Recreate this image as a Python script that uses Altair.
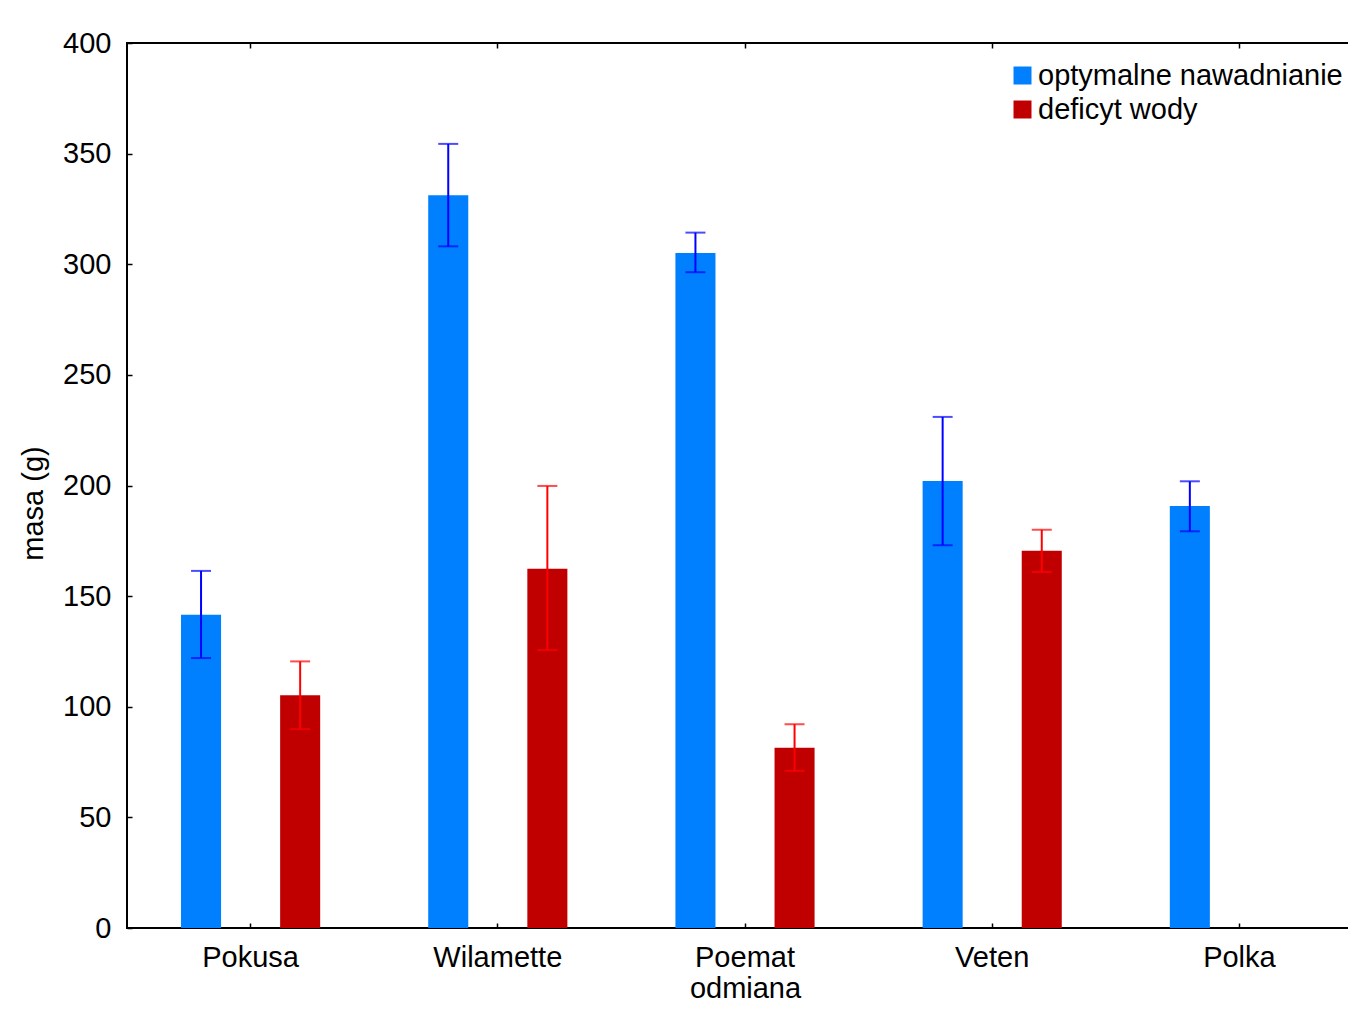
import altair as alt
import pandas as pd

categories = ["Pokusa", "Wilamette", "Poemat", "Veten", "Polka"]
groups = ["optymalne nawadnianie", "deficyt wody"]

opt_mean = [141.6, 331.2, 305.1, 202.0, 190.7]
opt_hi = [161.4, 354.4, 314.3, 231.0, 201.9]
opt_lo = [122.0, 308.1, 296.4, 173.0, 179.3]

def_mean = [105.2, 162.4, 81.5, 170.5, 0.0]
def_hi = [120.5, 199.8, 92.1, 180.0, None]
def_lo = [89.9, 125.6, 71.0, 160.9, None]

bar_colors = ["#0080ff", "#c00000"]
err_colors = ["#0000ff", "#ff0000"]

rows = []
for i, c in enumerate(categories):
    rows.append({"odmiana": c, "grupa": groups[0], "masa": opt_mean[i],
                 "hi": opt_hi[i], "lo": opt_lo[i], "ecol": err_colors[0]})
    rows.append({"odmiana": c, "grupa": groups[1], "masa": def_mean[i],
                 "hi": def_hi[i], "lo": def_lo[i], "ecol": err_colors[1]})
df = pd.DataFrame(rows)

FONT = "Liberation Sans"
FS = 29

x_bottom = alt.X(
    "odmiana:N", sort=categories,
    scale=alt.Scale(paddingInner=0, paddingOuter=0),
    axis=alt.Axis(title="odmiana", orient="bottom", domain=False, grid=False,
                  tickSize=5, tickWidth=1.5, tickColor="black", offset=-5,
                  labelAngle=0, labelFontSize=FS, labelFont=FONT, labelColor="black",
                  labelPadding=15, titleFontSize=FS, titleFont=FONT,
                  titleFontWeight="normal", titleColor="black", titlePadding=2),
)
x_top = alt.X(
    "odmiana:N", sort=categories,
    axis=alt.Axis(title=None, orient="top", domain=False, grid=False, labels=False,
                  tickSize=5, tickWidth=1.5, tickColor="black", offset=-5),
)
x_none = alt.X("odmiana:N", sort=categories, axis=None)

xoff = alt.XOffset("grupa:N", sort=groups,
                   scale=alt.Scale(paddingInner=0.596, paddingOuter=0.545))

y_enc = alt.Y(
    "masa:Q",
    scale=alt.Scale(domain=[0, 400], nice=False, zero=True),
    axis=alt.Axis(title="masa (g)", values=[0, 50, 100, 150, 200, 250, 300, 350, 400],
                  domain=False, grid=False, tickSize=5, tickWidth=1.5, tickColor="black",
                  offset=-5, labelFontSize=FS, labelFont=FONT, labelColor="black",
                  labelPadding=16, titleFontSize=FS, titleFont=FONT,
                  titleFontWeight="normal", titleColor="black", titlePadding=14,
                  titleY=460),
)

bars = alt.Chart(df).mark_bar().encode(
    x=x_bottom,
    xOffset=xoff,
    y=y_enc,
    fill=alt.Fill("grupa:N", sort=groups,
                  scale=alt.Scale(domain=groups, range=bar_colors),
                  legend=alt.Legend(title=None, orient="none", legendX=881, legendY=18,
                                    symbolType="square", symbolSize=324,
                                    symbolStrokeWidth=0, labelFontSize=FS,
                                    labelFont=FONT, labelColor="black", labelLimit=0,
                                    labelOffset=1, rowPadding=4, padding=0)),
)

err = alt.Chart(df).transform_filter("datum.hi != null")

rules = err.mark_rule(strokeWidth=2).encode(
    x=x_top,
    xOffset=xoff,
    y=alt.Y("lo:Q"),
    y2="hi:Q",
    color=alt.Color("ecol:N", scale=None),
)

caps_hi = err.mark_tick(orient="horizontal", size=20, thickness=2).encode(
    x=x_none, xOffset=xoff, y=alt.Y("hi:Q"),
    color=alt.Color("ecol:N", scale=None),
)
caps_lo = err.mark_tick(orient="horizontal", size=20, thickness=2).encode(
    x=x_none, xOffset=xoff, y=alt.Y("lo:Q"),
    color=alt.Color("ecol:N", scale=None),
)

chart = alt.layer(bars, rules, caps_hi, caps_lo).resolve_axis(
    x="independent"
).properties(
    width=1236, height=885,
    autosize=alt.AutoSizeParams(type="none"),
    padding={"left": 119, "top": 35, "right": -15, "bottom": 77},
    background="white",
).configure_view(stroke="black", strokeWidth=2)

chart.save("out.html", embed_options={"renderer": "svg", "actions": False})
